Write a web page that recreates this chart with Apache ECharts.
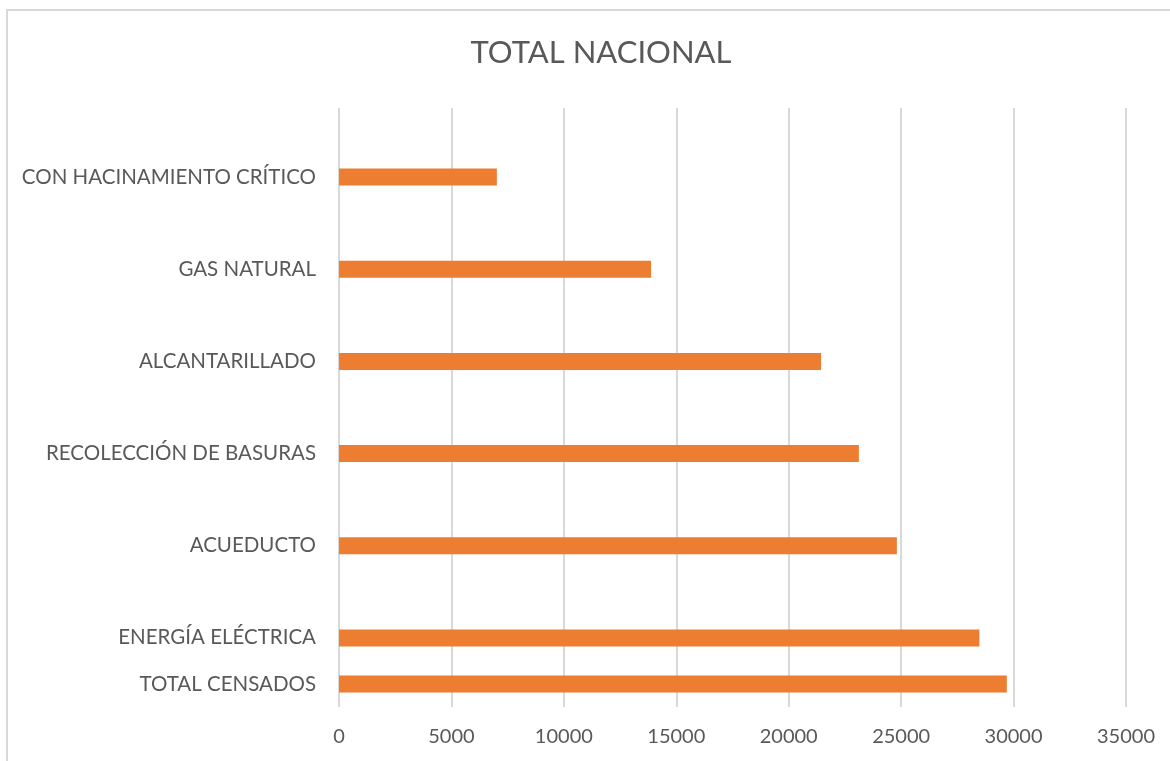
<!DOCTYPE html>
<html>
<head>
<meta charset="utf-8">
<script src="https://cdn.jsdelivr.net/npm/echarts@6/dist/echarts.min.js"></script>
<style>
html,body{margin:0;padding:0;background:#fff;}
#chart{width:1170px;height:761px;}
</style>
</head>
<body>
<div id="chart"></div>
<script>
// categorias (de abajo hacia arriba), los huecos dejan el espacio del original
var categorias = ['TOTAL CENSADOS', 'ENERGÍA ELÉCTRICA', '', 'ACUEDUCTO', '', 'RECOLECCIÓN DE BASURAS', '', 'ALCANTARILLADO', '', 'GAS NATURAL', '', 'CON HACINAMIENTO CRÍTICO', ''];
var valores = [29700, 28480, null, 24810, null, 23120, null, 21440, null, 13880, null, 7020, null];
var ticksX = [0, 5000, 10000, 15000, 20000, 25000, 30000, 35000];

var chart = echarts.init(document.getElementById('chart'));
var option = {
    backgroundColor: '#fff',
    animation: false,
    title: {
        text: 'TOTAL NACIONAL',
        left: 596,
        top: 32,
        textAlign: 'center',
        textStyle: {
            color: '#595959',
            fontFamily: 'Lato',
            fontWeight: 'normal',
            fontSize: 31
        }
    },
    graphic: [{
        type: 'rect',
        shape: {x: 7, y: 10, width: 1200, height: 800},
        style: {fill: 'none', stroke: '#d9d9d9', lineWidth: 2},
        silent: true
    }],
    grid: {
        left: 339,
        right: 44,
        top: 108,
        bottom: 54
    },
    xAxis: {
        type: 'value',
        min: ticksX[0],
        max: ticksX[ticksX.length - 1],
        interval: 5000,
        axisLine: {show: false},
        axisTick: {show: false},
        axisLabel: {
            color: '#595959',
            fontFamily: 'Lato',
            fontSize: 20,
            margin: 20,
            formatter: function (v) { return String(v); }
        },
        splitLine: {
            lineStyle: {color: '#d9d9d9', width: 2}
        }
    },
    yAxis: {
        type: 'category',
        data: categorias,
        axisLine: {show: false},
        axisTick: {show: false},
        axisLabel: {
            color: '#595959',
            fontFamily: 'Lato',
            fontSize: 20.5,
            margin: 23,
            interval: 0
        }
    },
    series: [{
        type: 'bar',
        data: valores,
        barWidth: 17,
        itemStyle: {color: '#ed7d31'}
    }]
};
chart.setOption(option);
</script>
</body>
</html>
